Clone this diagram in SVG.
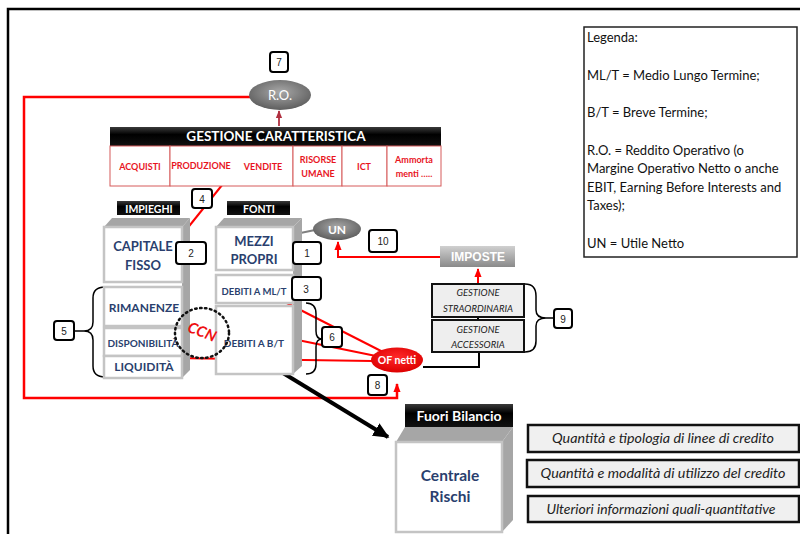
<svg xmlns="http://www.w3.org/2000/svg" width="800" height="534" viewBox="0 0 800 534">
<style>
.nb{fill:#fff;stroke:#000;stroke-width:2}
.nt{font-family:"Liberation Sans",Arial,sans-serif;font-size:10px;fill:#222;text-anchor:middle}
.hd{fill:url(#blk)}
.ht{font-family:Lato,"Liberation Sans",sans-serif;font-weight:bold;fill:#fff;text-anchor:middle}
.bx{fill:#fff;stroke:#c4c4c4;stroke-width:2.5}
.bt{font-family:Lato,"Liberation Sans",sans-serif;font-weight:bold;fill:#2a3f6e;text-anchor:middle}
.fc{fill:#a6a6a6}
.cell{fill:#fff;stroke:#d65a5a;stroke-width:1}
.ct{font-family:Lato,"Liberation Sans",sans-serif;font-weight:bold;font-size:9px;fill:#e8141e;text-anchor:middle}
.gb{fill:#eeeeee;stroke:#111;stroke-width:2}
.gt{font-family:Lato,"Liberation Sans",sans-serif;font-style:italic;font-size:9.5px;fill:#222;text-anchor:middle}
.rb{fill:#f0f0f0;stroke:#111;stroke-width:2.5}
.rt{font-family:Lato,"Liberation Sans",sans-serif;font-style:italic;font-size:13.5px;fill:#222;text-anchor:middle}
.lg{font-family:Lato,"Open Sans",sans-serif;font-size:13px;fill:#111}
.red{fill:none;stroke:#ff0000;stroke-width:2.5}
.redt{fill:none;stroke:#ff0000;stroke-width:2}
.br{fill:none;stroke:#000;stroke-width:1.5}
</style>
<defs>
<linearGradient id="blk" x1="0" y1="0" x2="0" y2="1"><stop offset="0" stop-color="#3a3a3a"/><stop offset="0.4" stop-color="#000"/><stop offset="1" stop-color="#111"/></linearGradient>
<radialGradient id="gry" cx="0.5" cy="0.4" r="0.6"><stop offset="0" stop-color="#a8a8a8"/><stop offset="1" stop-color="#5e5e5e"/></radialGradient>
<radialGradient id="rd" cx="0.5" cy="0.4" r="0.6"><stop offset="0" stop-color="#ff2a2a"/><stop offset="1" stop-color="#dd0000"/></radialGradient>
<linearGradient id="imp" x1="0" y1="0" x2="0" y2="1"><stop offset="0" stop-color="#d0d0d0"/><stop offset="1" stop-color="#8a8a8a"/></linearGradient>
<marker id="ar" viewBox="0 0 10 10" refX="9" refY="5" markerWidth="9" markerHeight="9" markerUnits="userSpaceOnUse" orient="auto"><path d="M0,1 L10,5 L0,9 z" fill="#ff0000"/></marker>
<marker id="adr" viewBox="0 0 10 10" refX="9" refY="5" markerWidth="8" markerHeight="8" markerUnits="userSpaceOnUse" orient="auto"><path d="M0,1 L10,5 L0,9 z" fill="#b03040"/></marker>
<marker id="ag" viewBox="0 0 10 10" refX="9" refY="5" markerWidth="8" markerHeight="8" markerUnits="userSpaceOnUse" orient="auto"><path d="M0,1 L10,5 L0,9 z" fill="#808080"/></marker>
<marker id="ab" viewBox="0 0 10 10" refX="9" refY="5" markerWidth="16" markerHeight="16" markerUnits="userSpaceOnUse" orient="auto"><path d="M0,0.5 L10,5 L0,9.5 z" fill="#000"/></marker>
</defs>
<rect width="800" height="534" fill="#fff"/>
<!-- outer frame -->
<path d="M8,534 L8,9 L800,9" fill="none" stroke="#000" stroke-width="2.5"/>

<!-- legend -->
<g id="legenda">
<rect x="584" y="27" width="213" height="230" fill="#fff" stroke="#222" stroke-width="1.5"/>
<text class="lg" x="587" y="42">Legenda:</text>
<text class="lg" x="587" y="80">ML/T = Medio Lungo Termine;</text>
<text class="lg" x="587" y="117">B/T = Breve Termine;</text>
<text class="lg" x="587" y="155">R.O. = Reddito Operativo (o</text>
<text class="lg" x="587" y="173">Margine Operativo Netto o anche</text>
<text class="lg" x="587" y="192">EBIT, Earning Before Interests and</text>
<text class="lg" x="587" y="210">Taxes);</text>
<text class="lg" x="587" y="248">UN = Utile Netto</text>
</g>

<!-- connectors -->
<g id="connectors">
<path class="red" d="M250,97 L24,97 L24,398 L397,398 L397,384" marker-end="url(#ar)"/>
<line x1="279" y1="126" x2="279" y2="111" stroke="#b03040" stroke-width="1.8" marker-end="url(#adr)"/>
<line class="redt" x1="186" y1="230" x2="255" y2="144" marker-end="url(#ar)"/>
<line x1="315" y1="230" x2="281" y2="237" stroke="#808080" stroke-width="2" marker-end="url(#ag)"/>
<path class="redt" d="M440,257 L338,257 L338,242" marker-end="url(#ar)"/>
<line class="redt" x1="478" y1="283" x2="478" y2="269" marker-end="url(#ar)"/>
<path d="M423,367 L479,367 L479,352" fill="none" stroke="#000" stroke-width="2"/>
<line x1="478" y1="317" x2="478" y2="320" stroke="#000" stroke-width="2"/>
<line class="redt" x1="383" y1="352" x2="273" y2="296" marker-end="url(#ar)"/>
<line class="redt" x1="376" y1="356" x2="283" y2="337" marker-end="url(#ar)"/>
<line class="redt" x1="372" y1="361" x2="172" y2="358" marker-end="url(#ar)"/>
<line x1="283" y1="373" x2="388" y2="437" stroke="#000" stroke-width="4" marker-end="url(#ab)"/>
<path class="br" d="M105,287 Q93,287 93,298 L93,322 Q93,331 84,331 Q93,331 93,340 L93,366 Q93,377 105,377 M84,331 L74,331"/>
<path class="br" d="M306,303 Q316,303 316,314 L316,331 Q316,339 322,339 Q316,339 316,347 L316,364 Q316,374 306,374"/>
<path class="br" d="M525,284 Q536,284 536,296 L536,310 Q536,318 546,318 Q536,318 536,326 L536,341 Q536,352 525,352 M546,318 L554,318"/>
</g>

<!-- R.O. -->
<g id="ro">
<ellipse cx="280" cy="95" rx="31" ry="15" fill="url(#gry)"/>
<text x="280" y="99.5" font-family="Lato,'Liberation Sans',sans-serif" font-size="13" fill="#fff" text-anchor="middle">R.O.</text>
</g>

<!-- Gestione caratteristica -->
<g id="gestione-caratteristica">
<rect class="hd" x="110" y="127" width="331" height="19"/>
<text class="ht" x="276" y="141" font-size="13.5">GESTIONE CARATTERISTICA</text>
<rect class="cell" x="110" y="146" width="60" height="40"/>
<rect class="cell" x="170" y="146" width="123" height="40"/>
<rect class="cell" x="293" y="146" width="49" height="40"/>
<rect class="cell" x="342" y="146" width="45" height="40"/>
<rect class="cell" x="387" y="146" width="54" height="40"/>
<text class="ct" x="140" y="170">ACQUISTI</text>
<text class="ct" x="201" y="169">PRODUZIONE</text>
<text class="ct" x="263" y="170">VENDITE</text>
<text class="ct" x="318" y="163">RISORSE</text>
<text class="ct" x="318" y="177">UMANE</text>
<text class="ct" x="364" y="170">ICT</text>
<text class="ct" x="414" y="163">Ammorta</text>
<text class="ct" x="414" y="177">menti …..</text>
</g>

<!-- Impieghi column -->
<g id="impieghi">
<rect class="hd" x="117" y="201" width="63" height="14"/>
<text class="ht" x="149" y="212.5" font-size="10.5">IMPIEGHI</text>
<polygon class="fc" points="104,227 112,218 190,218 182,227"/>
<polygon class="fc" points="182,227 190,218 190,370 182,378"/>
<rect class="bx" x="104" y="227" width="78" height="55"/>
<rect class="bx" x="104" y="287" width="78" height="39"/>
<rect class="bx" x="104" y="328" width="78" height="28"/>
<rect class="bx" x="104" y="356" width="78" height="22"/>
<text class="bt" x="143" y="251" font-size="13">CAPITALE</text>
<text class="bt" x="143" y="270" font-size="13">FISSO</text>
<text class="bt" x="144" y="312" font-size="12">RIMANENZE</text>
<text class="bt" x="143" y="347" font-size="10">DISPONIBILITÀ</text>
<text class="bt" x="144" y="371" font-size="12">LIQUIDITÀ</text>
</g>

<!-- Fonti column -->
<g id="fonti">
<rect class="hd" x="227" y="201" width="63" height="14"/>
<text class="ht" x="259" y="212.5" font-size="10.5">FONTI</text>
<polygon class="fc" points="216,227 224,218 302,218 293,227"/>
<polygon class="fc" points="293,227 302,218 302,366 293,374"/>
<rect class="bx" x="216" y="227" width="77" height="43"/>
<rect class="bx" x="216" y="275" width="77" height="28"/>
<rect class="bx" x="216" y="306" width="77" height="68"/>
<text class="bt" x="254" y="246" font-size="13">MEZZI</text>
<text class="bt" x="254" y="264" font-size="13">PROPRI</text>
<text class="bt" x="254" y="295" font-size="9.5">DEBITI A ML/T</text>
<text class="bt" x="254" y="347" font-size="10">DEBITI A B/T</text>
</g>

<!-- CCN -->
<g id="ccn">
<ellipse cx="202" cy="333" rx="27" ry="25" fill="none" stroke="#111" stroke-width="2.5" stroke-dasharray="1.5 3.5" stroke-linecap="round"/>
<text x="202" y="337" transform="rotate(22 202 332)" font-family="Lato,'Liberation Sans',sans-serif" font-weight="bold" font-style="italic" font-size="15" fill="#ee1111" text-anchor="middle">CCN</text>
</g>

<!-- UN -->
<g id="un">
<ellipse cx="337" cy="229" rx="24" ry="11" fill="url(#gry)"/>
<text x="337" y="233.5" font-family="Lato,'Liberation Sans',sans-serif" font-weight="bold" font-size="12" fill="#fff" text-anchor="middle">UN</text>
</g>

<!-- IMPOSTE -->
<g id="imposte">
<rect x="440" y="246" width="75" height="21" fill="url(#imp)"/>
<text x="478" y="261" font-family="'Liberation Sans',Arial,sans-serif" font-weight="bold" font-size="12" fill="#fff" text-anchor="middle">IMPOSTE</text>
</g>

<!-- Gestione straordinaria / accessoria -->
<g id="gestione-straordinaria">
<rect class="gb" x="432" y="284" width="92" height="33"/>
<text class="gt" x="478" y="296">GESTIONE</text>
<text class="gt" x="478" y="312">STRAORDINARIA</text>
</g>
<g id="gestione-accessoria">
<rect class="gb" x="432" y="320" width="92" height="32"/>
<text class="gt" x="478" y="333">GESTIONE</text>
<text class="gt" x="478" y="348">ACCESSORIA</text>
</g>

<!-- OF netti -->
<g id="of-netti">
<ellipse cx="397" cy="360" rx="26" ry="12.5" fill="url(#rd)"/>
<text x="397" y="364" font-family="Lato,'Liberation Sans',sans-serif" font-weight="bold" font-size="10.5" fill="#fff" text-anchor="middle">OF netti</text>
</g>

<!-- Fuori bilancio / Centrale rischi -->
<g id="centrale-rischi">
<rect class="hd" x="405" y="404" width="108" height="23"/>
<text class="ht" x="459" y="421" font-size="14">Fuori Bilancio</text>
<polygon class="fc" points="396,442 405,427 513,427 502,442"/>
<polygon class="fc" points="502,442 513,427 513,520 502,532"/>
<rect class="bx" x="396" y="442" width="106" height="90"/>
<text class="bt" x="450" y="481" font-size="15.5">Centrale</text>
<text class="bt" x="450" y="502" font-size="15.5">Rischi</text>
</g>

<!-- right boxes -->
<g id="quantita-tipologia">
<rect class="rb" x="528" y="425" width="271" height="27"/>
<text class="rt" x="663" y="443" textLength="222" lengthAdjust="spacingAndGlyphs">Quantità e tipologia di linee di credito</text>
</g>
<g id="quantita-modalita">
<rect class="rb" x="527" y="460" width="272" height="27"/>
<text class="rt" x="663" y="478" textLength="245" lengthAdjust="spacingAndGlyphs">Quantità e modalità di utilizzo del credito</text>
</g>
<g id="ulteriori-info">
<rect class="rb" x="528" y="496" width="271" height="26"/>
<text class="rt" x="661" y="514" textLength="229" lengthAdjust="spacingAndGlyphs">Ulteriori informazioni quali-quantitative</text>
</g>

<!-- number boxes -->
<g id="n7"><rect class="nb" x="270" y="52" width="18" height="20" rx="3"/><text class="nt" x="279" y="66">7</text></g>
<g id="n4"><rect class="nb" x="192" y="189" width="20" height="19" rx="3"/><text class="nt" x="202" y="202.5">4</text></g>
<g id="n2"><rect class="nb" x="176" y="242" width="30" height="22" rx="3"/><text class="nt" x="191" y="257">2</text></g>
<g id="n1"><rect class="nb" x="293" y="242" width="28" height="22" rx="3"/><text class="nt" x="307" y="257">1</text></g>
<g id="n3"><rect class="nb" x="292" y="277" width="29" height="23" rx="3"/><text class="nt" x="306" y="292.5">3</text></g>
<g id="n10"><rect class="nb" x="369" y="230" width="28" height="22" rx="3"/><text class="nt" x="383" y="245">10</text></g>
<g id="n6"><rect class="nb" x="322" y="327" width="20" height="20" rx="3"/><text class="nt" x="332" y="341">6</text></g>
<g id="n5"><rect class="nb" x="54" y="321" width="20" height="19" rx="3"/><text class="nt" x="64" y="334.5">5</text></g>
<g id="n8"><rect class="nb" x="368" y="375" width="19" height="20" rx="3"/><text class="nt" x="377.5" y="389">8</text></g>
<g id="n9"><rect class="nb" x="554" y="309" width="18" height="19" rx="3"/><text class="nt" x="563" y="322.5">9</text></g>
</svg>
